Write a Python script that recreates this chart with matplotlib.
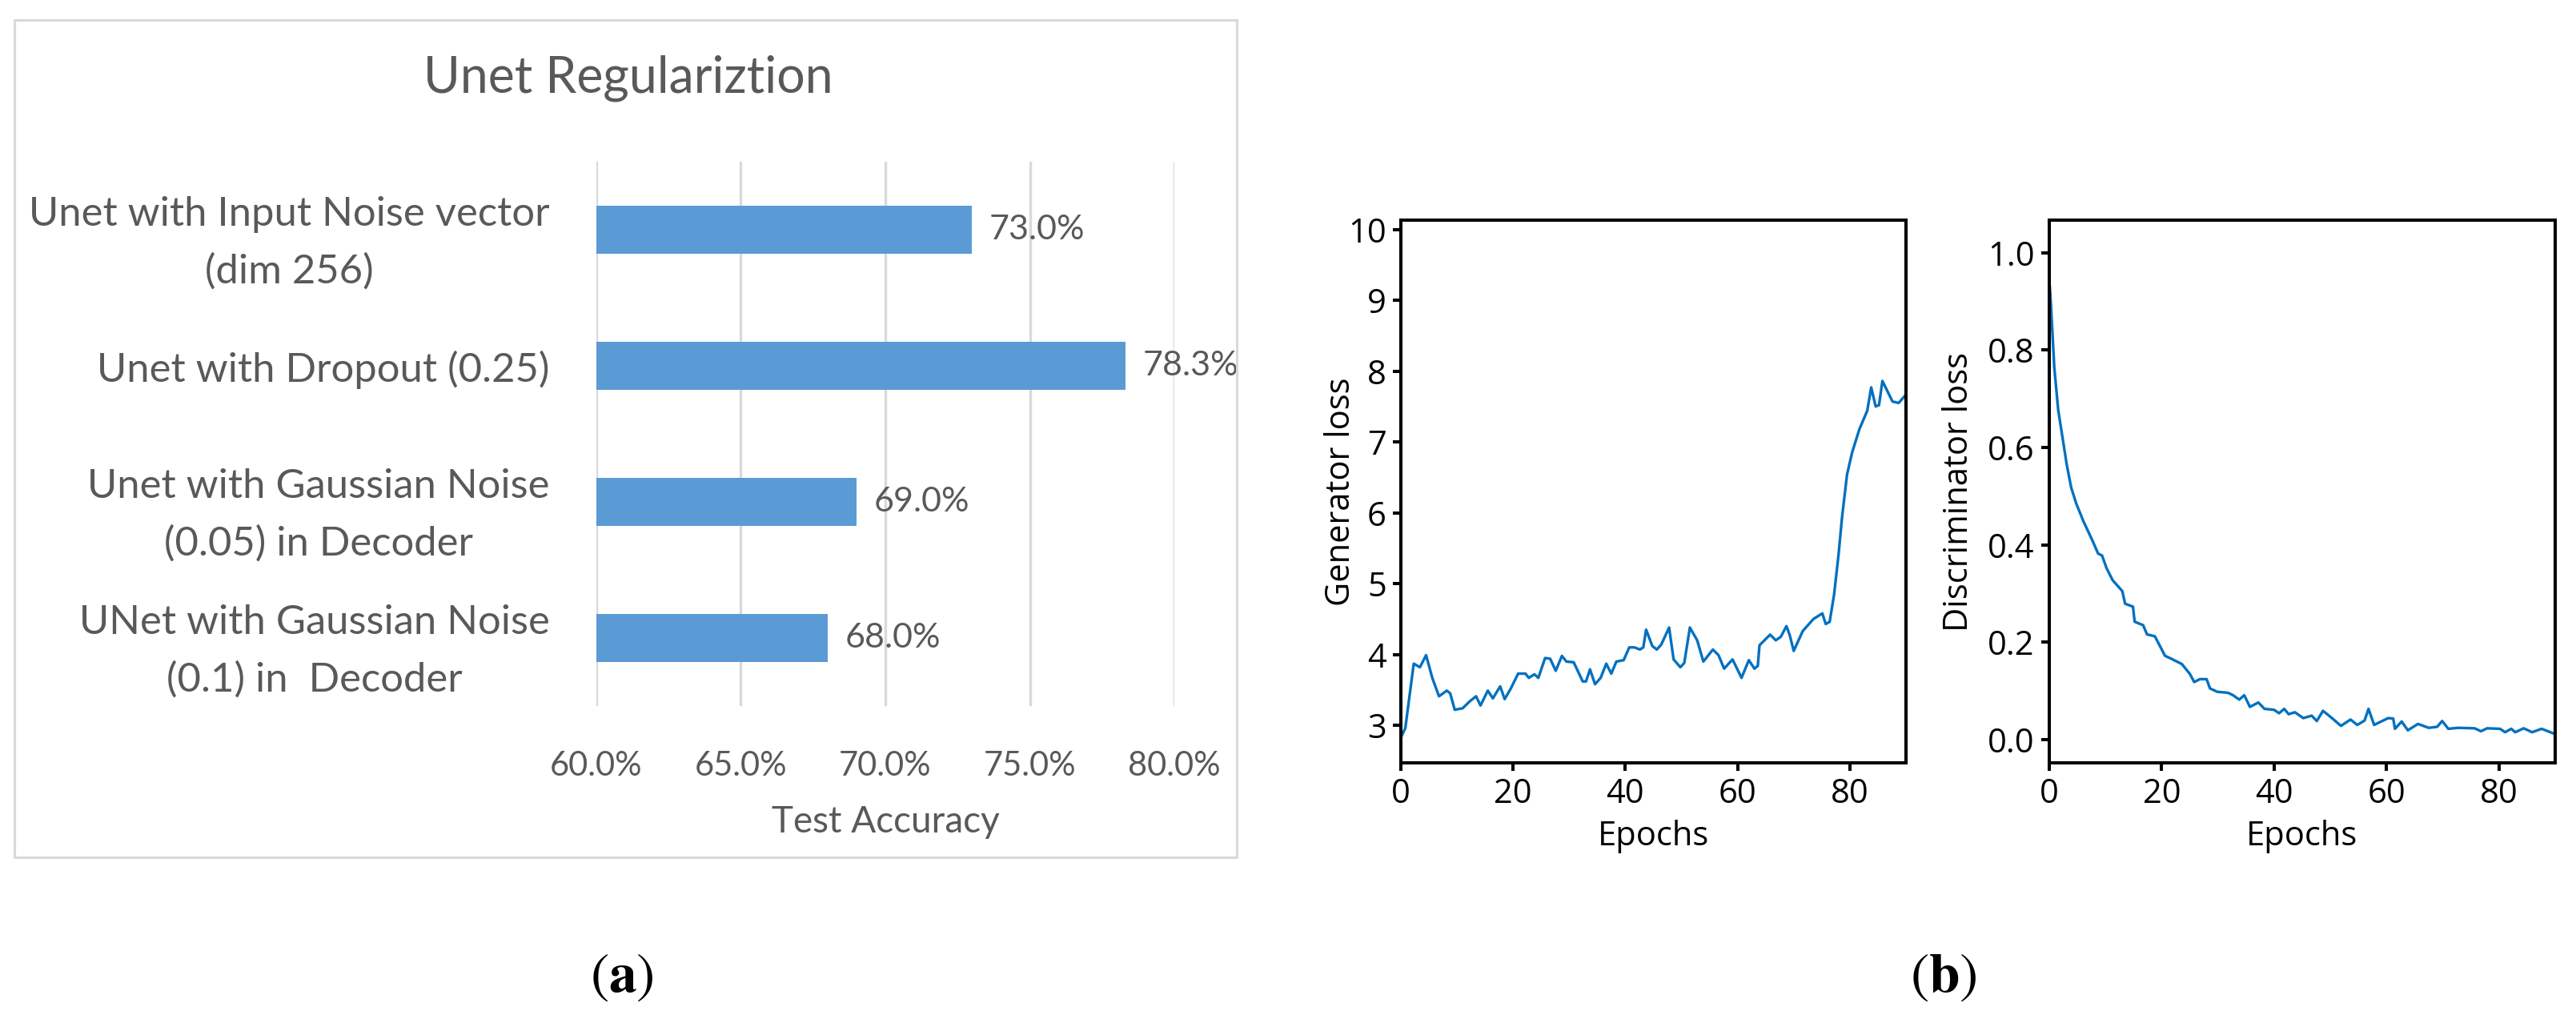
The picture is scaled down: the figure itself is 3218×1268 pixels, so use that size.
import matplotlib
matplotlib.use("Agg")
import matplotlib.pyplot as plt
from matplotlib.patches import Rectangle
from matplotlib.ticker import FuncFormatter

plt.rcParams['mathtext.fontset'] = 'stix'

# ---- data: (a) bar chart
categories = [
    "Unet with Input Noise vector\n(dim 256)",
    "Unet with Dropout (0.25)",
    "Unet with Gaussian Noise\n(0.05) in Decoder",
    "UNet with Gaussian Noise\n(0.1) in  Decoder",
]
accuracy = [73.0, 78.3, 69.0, 68.0]
acc_ticks = [60, 65, 70, 75, 80]

# ---- data: (b) generator loss
gen_epoch = [0.2, 0.8, 2.3, 3.4, 4.5, 5.6, 6.8, 8.2, 8.8, 9.6, 11.0, 12.3, 13.4, 14.2,
             15.5, 16.4, 17.7, 18.5, 19.6, 20.9, 22.2, 22.8, 23.8, 24.5, 25.7, 26.6,
             27.6, 28.7, 29.5, 30.8, 32.4, 33.0, 33.7, 34.6, 35.6, 36.6, 37.5, 38.4,
             39.7, 40.7, 41.6, 42.6, 43.2, 43.7, 44.8, 45.6, 46.4, 47.8, 48.6, 49.8,
             50.5, 51.5, 52.8, 53.9, 55.6, 56.6, 57.6, 59.1, 60.7, 62.0, 63.0, 63.6,
             63.9, 65.8, 66.8, 67.7, 68.7, 69.3, 70.0, 71.6, 73.5, 75.1, 75.7, 76.4,
             77.2, 78.0, 78.6, 79.5, 80.4, 81.7, 83.1, 83.8, 84.6, 85.2, 85.8, 87.6,
             88.7, 89.9]
gen_loss = [2.86, 2.96, 3.87, 3.82, 3.99, 3.67, 3.41, 3.49, 3.45, 3.22, 3.24, 3.34, 3.41, 3.28,
            3.49, 3.38, 3.55, 3.37, 3.52, 3.73, 3.73, 3.67, 3.72, 3.67, 3.95, 3.94,
            3.77, 3.98, 3.90, 3.89, 3.62, 3.62, 3.79, 3.58, 3.67, 3.87, 3.73, 3.90,
            3.92, 4.10, 4.10, 4.07, 4.10, 4.35, 4.12, 4.07, 4.14, 4.38, 3.93, 3.82,
            3.88, 4.38, 4.20, 3.90, 4.07, 3.99, 3.80, 3.93, 3.67, 3.92, 3.80, 3.84,
            4.13, 4.28, 4.20, 4.25, 4.40, 4.27, 4.05, 4.33, 4.50, 4.58, 4.43, 4.46,
            4.85, 5.42, 5.93, 6.54, 6.85, 7.18, 7.44, 7.77, 7.50, 7.52, 7.86, 7.57,
            7.55, 7.66]

# ---- data: (b) discriminator loss
dis_epoch = [0.1, 0.3, 0.9, 1.6, 2.4, 3.1, 3.9, 4.8, 6.1, 7.6, 8.7, 9.4, 10.2, 11.3,
             13.0, 13.5, 14.9, 15.2, 16.7, 17.4, 18.8, 20.6, 21.7, 23.6, 25.0, 25.8,
             26.8, 28.0, 28.6, 29.9, 31.8, 32.7, 33.8, 34.7, 35.7, 37.2, 38.3, 40.0,
             40.9, 41.8, 42.6, 43.7, 45.2, 46.7, 47.6, 48.7, 50.4, 51.9, 53.6, 54.8,
             56.1, 56.8, 57.8, 60.3, 61.2, 61.5, 62.7, 63.8, 65.6, 67.5, 69.0, 69.9,
             71.0, 72.7, 75.7, 76.8, 77.9, 80.2, 81.1, 82.2, 82.9, 84.4, 85.9, 87.6,
             89.6]
dis_loss = [0.931, 0.895, 0.765, 0.677, 0.618, 0.566, 0.518, 0.485, 0.448, 0.411, 0.382,
            0.378, 0.352, 0.327, 0.305, 0.279, 0.273, 0.242, 0.235, 0.216, 0.212, 0.172,
            0.166, 0.155, 0.135, 0.118, 0.124, 0.124, 0.105, 0.098, 0.096, 0.091, 0.082,
            0.091, 0.067, 0.076, 0.063, 0.061, 0.054, 0.063, 0.052, 0.056, 0.044, 0.049,
            0.038, 0.059, 0.043, 0.028, 0.041, 0.030, 0.039, 0.063, 0.030, 0.044, 0.043,
            0.022, 0.037, 0.019, 0.032, 0.024, 0.026, 0.038, 0.022, 0.024, 0.023, 0.017,
            0.023, 0.022, 0.015, 0.022, 0.015, 0.023, 0.015, 0.022, 0.013]

gray = "#595959"
bar_color = "#5B9BD5"
line_color = "#0070C0"
excel_font = ["Lato", "DejaVu Sans"]
plot_font = ["Open Sans", "DejaVu Sans"]

fig = plt.figure(figsize=(32.18, 12.68), dpi=100)

# ---- (a) Excel style bar chart
fig.add_artist(Rectangle((0.0056, 0.1554), 0.4745, 0.8249, transform=fig.transFigure,
                         fill=False, edgecolor="#d9d9d9", linewidth=2.2))
fig.text(0.2439, 0.9227, "Unet Regulariztion", ha="center", va="center",
         fontsize=45, color=gray, family=excel_font)

ax = fig.add_axes([0.2315, 0.3044, 0.2244, 0.5363])
ypos = list(range(len(categories)))
ax.barh(ypos, [a - 60 for a in accuracy], left=60, height=0.35, color=bar_color, zorder=3)
for y, a in zip(ypos, accuracy):
    ax.text(a + 0.6, y, f"{a:.1f}%", va="center", ha="left", fontsize=31,
            color=gray, family=excel_font)
ax.set_xlim(60, 80)
ax.set_ylim(len(categories) - 0.5, -0.5)
ax.set_xticks(acc_ticks)
ax.xaxis.set_major_formatter(FuncFormatter(lambda v, p: f"{v:.1f}%"))
ax.set_yticks(ypos)
ax.set_yticklabels(categories, multialignment="center", linespacing=1.65)
ax.grid(axis="x", color="#d9d9d9", linewidth=2.4, zorder=0)
for s in ax.spines.values():
    s.set_visible(False)
ax.tick_params(axis="both", length=0, colors=gray)
ax.tick_params(axis="x", pad=40, labelsize=30)
ax.tick_params(axis="y", pad=42, labelsize=36.5)
for lab in ax.get_xticklabels() + ax.get_yticklabels():
    lab.set_family(excel_font)
ax.set_xlabel("Test Accuracy", fontsize=33, color=gray, family=excel_font, labelpad=22)

# ---- (b) loss curves
def loss_axes(rect, x, y, ylim, yticks, fmt, ylabel, label_x):
    a = fig.add_axes(rect)
    a.plot(x, y, color=line_color, linewidth=2.4)
    a.set_xlim(0, 90)
    a.set_ylim(*ylim)
    a.set_xticks([0, 20, 40, 60, 80])
    a.set_yticks(yticks)
    a.yaxis.set_major_formatter(FuncFormatter(fmt))
    for s in a.spines.values():
        s.set_linewidth(2.9)
    a.tick_params(length=7, width=2.9, labelsize=30, pad=6)
    for lab in a.get_xticklabels() + a.get_yticklabels():
        lab.set_family(plot_font)
    a.set_xlabel("Epochs", fontsize=30, family=plot_font, labelpad=8)
    a.set_ylabel(ylabel, fontsize=30, family=plot_font)
    a.yaxis.set_label_coords(label_x, 0.5)
    return a

loss_axes([0.5438, 0.2484, 0.1961, 0.5347], gen_epoch, gen_loss, (2.47, 10.13),
          [3, 4, 5, 6, 7, 8, 9, 10], lambda v, p: f"{v:.0f}", "Generator loss", -0.085)
loss_axes([0.7955, 0.2484, 0.1964, 0.5347], dis_epoch, dis_loss, (-0.048, 1.067),
          [0.0, 0.2, 0.4, 0.6, 0.8, 1.0], lambda v, p: f"{v:.1f}", "Discriminator loss", -0.145)

fig.text(0.2415, 0.0379, r"$(\mathbf{a})$", ha="center", va="center", fontsize=50)
fig.text(0.7543, 0.0379, r"$(\mathbf{b})$", ha="center", va="center", fontsize=50)

fig.savefig("out.png", dpi=100, facecolor="white")
